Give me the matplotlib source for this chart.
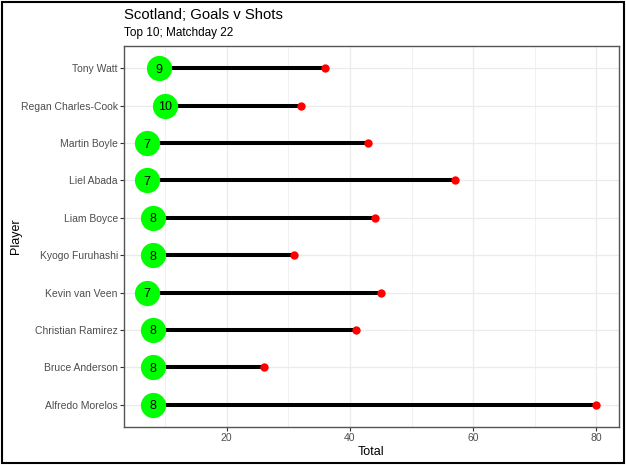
import matplotlib
matplotlib.use("Agg")
import matplotlib.pyplot as plt
from matplotlib.ticker import MultipleLocator
from matplotlib.patches import Rectangle

players = ["Alfredo Morelos", "Bruce Anderson", "Christian Ramirez", "Kevin van Veen",
           "Kyogo Furuhashi", "Liam Boyce", "Liel Abada", "Martin Boyle",
           "Regan Charles-Cook", "Tony Watt"]
goals = [8, 8, 8, 7, 8, 8, 7, 7, 10, 9]
shots = [80, 26, 41, 45, 31, 44, 57, 43, 32, 36]

plt.rcParams['font.family'] = ['Liberation Sans', 'DejaVu Sans']

fig = plt.figure(figsize=(6.26, 4.65), dpi=100)
ax = fig.add_axes([124/626, (465-427)/465, 495/626, 381/465])

y = list(range(len(players)))
ax.hlines(y, goals, shots, color="black", linewidth=2.9, zorder=3)
ax.scatter(shots, y, s=36, color="#FF0000", zorder=4, linewidths=0)
ax.scatter(goals, y, s=330, color="#00FF00", zorder=5, linewidths=0)
for g, yy in zip(goals, y):
    ax.text(g, yy, str(g), ha="center", va="center_baseline", fontsize=9, color="black", zorder=6)

lo, hi = min(goals), max(shots)
pad = (hi - lo) * 0.05
ax.set_xlim(lo - pad, hi + pad)
ax.set_ylim(-0.6, len(players) - 0.4)
ax.set_yticks(y)
ax.set_yticklabels(players)
ax.xaxis.set_minor_locator(MultipleLocator(10))
ax.set_xticks([20, 40, 60, 80])

ax.grid(which="major", color="#EBEBEB", linewidth=0.9, zorder=0)
ax.grid(which="minor", axis="x", color="#EBEBEB", linewidth=0.5, zorder=0)
ax.set_axisbelow(True)
for s in ax.spines.values():
    s.set_color("#555555")
    s.set_linewidth(1.0)
ax.tick_params(axis="both", which="major", colors="#333333", labelcolor="#4D4D4D",
               labelsize=7.5, length=3, width=0.8, pad=1.5)
ax.tick_params(axis="x", which="minor", length=0)

ax.set_xlabel("Total", fontsize=9, color="black", labelpad=2)
ax.set_ylabel("Player", fontsize=9, color="black", labelpad=-1)

fig.text(124/626, 1 - 15/465, "Scotland; Goals v Shots", fontsize=10.7, va="center", ha="left")
fig.text(124/626, 1 - 33/465, "Top 10; Matchday 22", fontsize=8.5, va="center", ha="left")

fig.patches.append(Rectangle((0.0025, 0.004), 0.994, 0.992, transform=fig.transFigure,
                             fill=False, edgecolor="black", linewidth=1.5))

fig.savefig("out.png", dpi=100)
